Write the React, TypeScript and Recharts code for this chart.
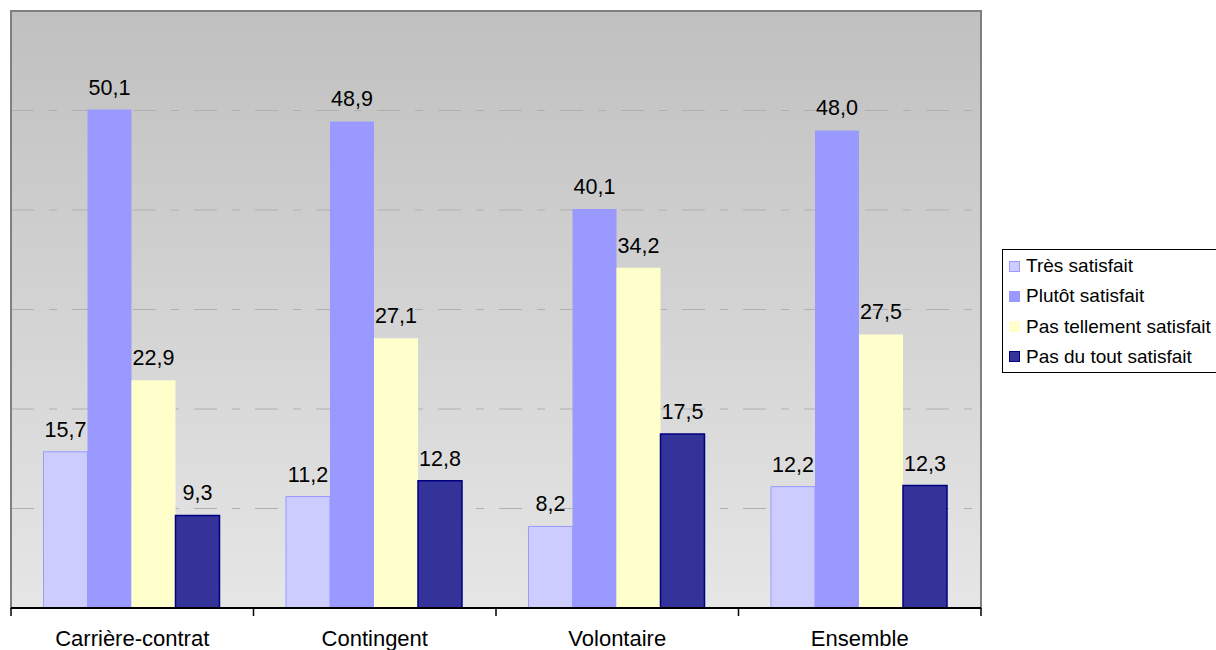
import React from "react";
import { BarChart, Bar, XAxis, YAxis, CartesianGrid, LabelList, ReferenceArea } from "recharts";

const categories = ["Carrière-contrat", "Contingent", "Volontaire", "Ensemble"];
const tresSatisfait = [15.7, 11.2, 8.2, 12.2];
const plutotSatisfait = [50.1, 48.9, 40.1, 48.0];
const pasTellementSatisfait = [22.9, 27.1, 34.2, 27.5];
const pasDuToutSatisfait = [9.3, 12.8, 17.5, 12.3];
const yTicks = [0, 10, 20, 30, 40, 50, 60];

const seriesNames = ["Très satisfait", "Plutôt satisfait", "Pas tellement satisfait", "Pas du tout satisfait"];
const seriesKeys = ["tres", "plutot", "pasTellement", "pasDuTout"];
const seriesFill = ["#CCCCFF", "#9999FF", "#FFFFCC", "#333399"];
const seriesStroke = ["#9999FF", "#9999FF", "#FFFFCC", "#000080"];
const seriesStrokeWidth = [1, 0, 0, 1.5];

const data = categories.map((cat, i) => ({
  cat,
  tres: tresSatisfait[i],
  plutot: plutotSatisfait[i],
  pasTellement: pasTellementSatisfait[i],
  pasDuTout: pasDuToutSatisfait[i],
}));

const FONT = "Arial, 'Liberation Sans', sans-serif";
const fmt = (v: any) => Number(v).toFixed(1).replace(".", ",");

function CatTick(props: any) {
  const { x, y, payload, index, visibleTicksCount } = props;
  const half = payload && payload.offset ? payload.offset : 121.25;
  const axisY = y - 8;
  return (
    <g>
      <line x1={x - half} x2={x - half} y1={axisY} y2={axisY + 8} stroke="#000" strokeWidth={1.5} />
      {index === visibleTicksCount - 1 && (
        <line x1={x + half} x2={x + half} y1={axisY} y2={axisY + 8} stroke="#000" strokeWidth={1.5} />
      )}
      <text x={x} y={axisY + 38} textAnchor="middle" fontSize={22} fontFamily={FONT} fill="#000">
        {payload.value}
      </text>
    </g>
  );
}

export default function App() {
  return (
    <div style={{ position: "absolute", left: 0, top: 0, width: 1216, height: 650, background: "#fff" }}>
      <BarChart
        width={1216}
        height={650}
        data={data}
        margin={{ top: 11, right: 235, bottom: 12, left: 11 }}
        barCategoryGap="13.4%"
        barGap={0}
      >
        <defs>
          <linearGradient id="bgGrad" x1="0" y1="0" x2="0" y2="1">
            <stop offset="0%" stopColor="#C0C0C0" />
            <stop offset="100%" stopColor="#E6E6E6" />
          </linearGradient>
        </defs>
        <CartesianGrid
          vertical={false}
          fill="url(#bgGrad)"
          fillOpacity={1}
          stroke="#B0B0B0"
          strokeDasharray="23 15 8 15"
        />
        <ReferenceArea y1={0} y2={60} fill="none" stroke="#808080" strokeWidth={2} />
        <YAxis hide domain={[0, 60]} ticks={yTicks} />
        <XAxis
          dataKey="cat"
          height={30}
          axisLine={{ stroke: "#000", strokeWidth: 2 }}
          tickLine={false}
          tick={<CatTick />}
          interval={0}
        />
        {seriesKeys.map((k, i) => (
          <Bar
            key={k}
            dataKey={k}
            name={seriesNames[i]}
            fill={seriesFill[i]}
            stroke={seriesStrokeWidth[i] ? seriesStroke[i] : "none"}
            strokeWidth={seriesStrokeWidth[i]}
            isAnimationActive={false}
          >
            <LabelList
              dataKey={k}
              position="top"
              offset={15}
              formatter={fmt}
              fontSize={21.5}
              fontFamily={FONT}
              fill="#000"
            />
          </Bar>
        ))}
      </BarChart>
      <div
        style={{
          position: "absolute",
          left: 1002,
          top: 249,
          width: 230,
          height: 121,
          border: "1px solid #000",
          background: "#fff",
          fontFamily: FONT,
          fontSize: 19,
          paddingTop: 1,
          boxSizing: "content-box",
        }}
      >
        {seriesNames.map((n, i) => (
          <div key={n} style={{ height: 30.25, display: "flex", alignItems: "center", paddingLeft: 6 }}>
            <span
              style={{
                display: "inline-block",
                width: 9,
                height: 9,
                background: seriesFill[i],
                border: `1px solid ${i === 3 ? "#000080" : i === 2 ? "#FFFFCC" : "#9999FF"}`,
                marginRight: 6,
              }}
            />
            <span style={{ color: "#000", whiteSpace: "nowrap" }}>{n}</span>
          </div>
        ))}
      </div>
    </div>
  );
}
